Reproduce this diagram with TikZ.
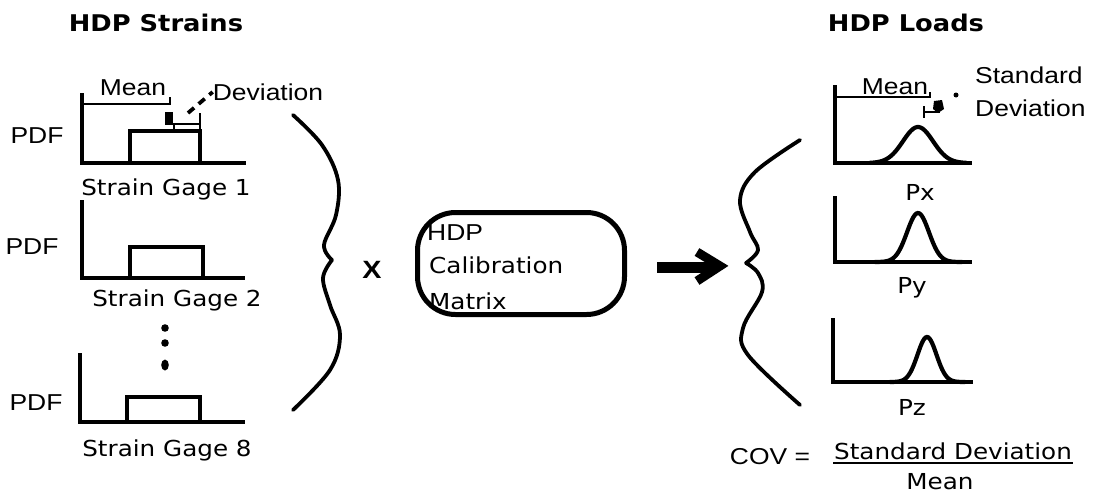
\documentclass[tikz,border=0pt]{standalone}
\usepackage{fontspec}
\newfontfamily\helv{Liberation Sans}
\newfontfamily\chic{DejaVu Sans}
\newcommand\hv[1]{\scalebox{1.15}[1]{\helv #1}}
\newcommand\ch[1]{\scalebox{1.12}[1]{\chic #1}}
\begin{document}
\begin{tikzpicture}[x=1pt,y=-1pt,
  axis/.style={line width=4.8pt, line join=miter},
  curve/.style={line width=4.2pt, line cap=round},
  thinl/.style={line width=2.8pt},
  brace/.style={line width=3.8pt, line cap=round, line join=round},
  hlab/.style={inner sep=0pt, font=\fontsize{23}{26}\selectfont},
  clab/.style={inner sep=0pt, font=\fontsize{22}{26}\selectfont},
  title/.style={inner sep=0pt, font=\bfseries\fontsize{23}{26}\selectfont}]
\useasboundingbox (0,0) rectangle (1094,499);
% titles
\node[title] (tstr) at (156,23) {\ch{HDP Strains}};
\node[title] (tload) at (906,23) {\ch{HDP Loads}};
% ---- strain gage 1
\draw[axis] (82,93) -- (82,163) -- (246,163);
\draw[axis] (130,163) -- (130,131) -- (200,131) -- (200,163);
\draw[thinl] (82,104) -- (170,104) -- (170,97);
\node[hlab] (mean1) at (133,88) {\hv{Mean}};
\node[hlab] (dev1) at (268,92) {\hv{Deviation}};
\fill (165,112) rectangle (173,124);
\draw[thinl] (165,124) -- (200,124);
\draw[thinl] (174,124) -- (174,131);
\draw[thinl] (200,113) -- (200,131);
\coordinate (ld1) at (188,113);
\draw[line width=3.8pt, dash pattern=on 8pt off 6pt] (ld1) -- (dev1.west);
\node[hlab] (pdf1) at (37,136) {\hv{PDF}};
\node[clab] (sg1) at (166,189) {\ch{Strain Gage 1}};
% ---- strain gage 2
\draw[axis] (82,200) -- (82,278) -- (245,278);
\draw[axis] (130,278) -- (130,247) -- (203,247) -- (203,278);
\node[hlab] (pdf2) at (32,247) {\hv{PDF}};
\node[clab] (sg2) at (177,300) {\ch{Strain Gage 2}};
% dots
\fill (165,328) circle (3.8);
\fill (165,343) circle (3.8);
\fill (165,365) ellipse (3.8 and 5.5);
% ---- strain gage 8
\draw[axis] (80,353) -- (80,422) -- (245,422);
\draw[axis] (127,422) -- (127,397) -- (200,397) -- (200,422);
\node[hlab] (pdf3) at (36,403) {\hv{PDF}};
\node[clab] (sg8) at (167,450) {\ch{Strain Gage 8}};
% left brace
\draw[brace] plot[smooth, tension=0.6] coordinates {(293,115) (322,145) (338,180) (336,215) (324,245) (332,260)};
\draw[brace] plot[smooth, tension=0.6] coordinates {(332,260) (323,278) (330,305) (340,335) (330,370) (293,410)};
\node[inner sep=0pt, font=\fontsize{25}{28}\selectfont] (times) at (372,270) {\hv{\bfseries X}};
% calibration box
\node[draw, line width=5pt, rounded corners=38pt, minimum width=207pt, minimum height=102pt, inner sep=0pt] (cal) at (521,263.5) {};
\node[hlab, anchor=west] (c1) at (427,233) {\hv{HDP}};
\node[clab, anchor=west] (c2) at (429,265) {\ch{Calibration}};
\node[clab, anchor=west] (c3) at (429,301) {\ch{Matrix}};
% arrow
\coordinate (a0) at (657,267);
\coordinate (a1) at (712,267);
\coordinate (tip) at (720,266);
\draw[line width=11pt] (a0) -- (a1);
\draw[line width=9pt, line join=miter] (697,252) -- (tip) -- (697,281);
% right brace
\draw[brace] plot[smooth, tension=0.6] coordinates {(800,140) (755,172) (740,200) (750,232) (758,250) (746,263)};
\draw[brace] plot[smooth, tension=0.6] coordinates {(746,263) (758,273) (762,292) (743,328) (748,355) (800,405)};
% ---- Px
\draw[axis] (835,85) -- (835,163) -- (972,163);
\draw[thinl] (835,97) -- (930,97) -- (930,92);
\node[hlab] (mean2) at (895,87) {\hv{Mean}};
\draw[curve] plot[domain=870:966, samples=60] (\x, {163-36*exp(-((\x-918)^2)/(2*15^2))});
\draw[thinl] (924,106) -- (924,118);
\draw[thinl] (924,112) -- (940,112);
\fill (934,101) -- (942,100) -- (944,109) -- (938,113) -- (933,109) -- cycle;
\coordinate (ld2) at (945,103);
\fill (956,95) circle (2.5);
\node[hlab, anchor=west] (sd1) at (975,75) {\hv{Standard}};
\node[hlab, anchor=west] (sd2) at (975,108) {\hv{Deviation}};
\node[clab] (px) at (920,192) {\ch{Px}};
% ---- Py
\draw[axis] (835,196) -- (835,262) -- (972,262);
\draw[curve] plot[domain=875:962, samples=60] (\x, {262-49*exp(-((\x-918)^2)/(2*11^2))});
\node[clab] (py) at (912,288) {\ch{Py}};
% ---- Pz
\draw[axis] (833,318) -- (833,382) -- (973,382);
\draw[curve] plot[domain=890:965, samples=60] (\x, {382-45*exp(-((\x-927)^2)/(2*9.5^2))});
\node[clab] (pz) at (912,407) {\ch{Pz}};
% COV
\node[hlab] (cov) at (770,457) {\hv{COV =}};
\node[clab] (num) at (953,451) {\ch{Standard Deviation}};
\draw[line width=2.4pt] (833,463) -- (1073,463);
\node[clab] (den) at (940,482) {\ch{Mean}};
\end{tikzpicture}
\end{document}
